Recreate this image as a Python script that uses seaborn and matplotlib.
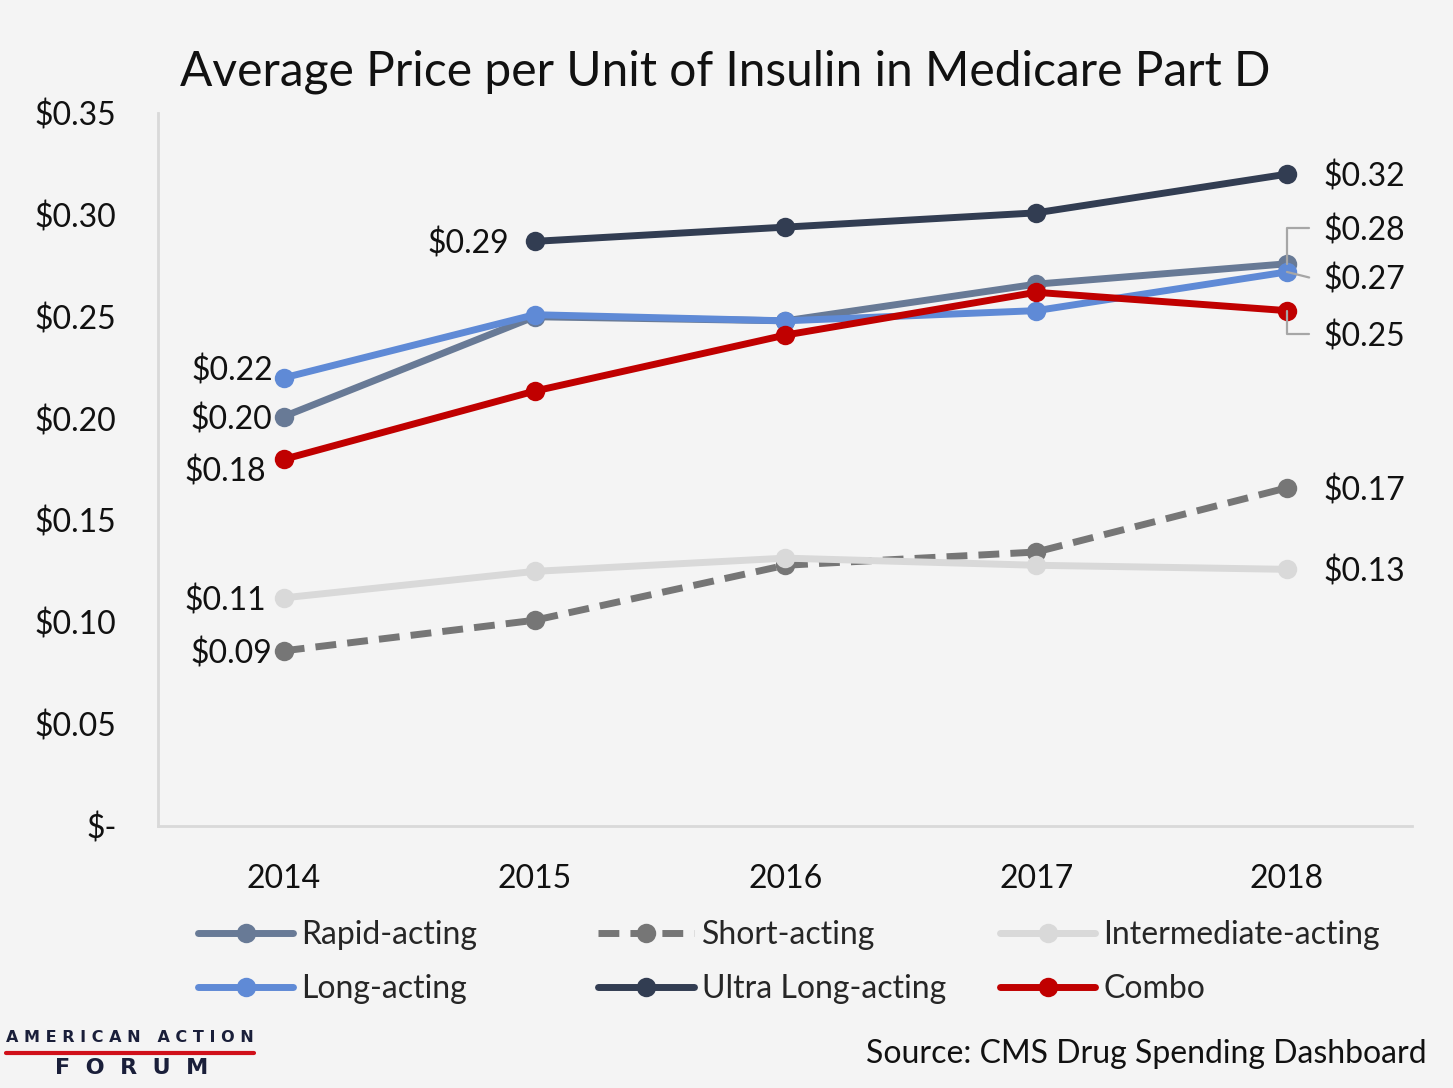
import numpy as np
import pandas as pd
import matplotlib
matplotlib.use("Agg")
import matplotlib.pyplot as plt
from matplotlib.lines import Line2D
import seaborn as sns

years = [2014, 2015, 2016, 2017, 2018]
rapid = [0.201, 0.250, 0.248, 0.266, 0.276]
short = [0.086, 0.101, 0.128, 0.1345, 0.166]
intermediate = [0.112, 0.125, 0.1315, 0.128, 0.126]
long_acting = [0.220, 0.251, 0.248, 0.253, 0.272]
ultra = [np.nan, 0.287, 0.294, 0.301, 0.320]
combo = [0.180, 0.2135, 0.241, 0.262, 0.253]

series_names = ["Rapid-acting", "Short-acting", "Intermediate-acting",
                "Long-acting", "Ultra Long-acting", "Combo"]
series_values = [rapid, short, intermediate, long_acting, ultra, combo]
colors = ["#687a96", "#767676", "#d9d9d9", "#5f8ad6", "#323d52", "#c00000"]
y_ticks = [0, 0.05, 0.10, 0.15, 0.20, 0.25, 0.30, 0.35]
y_tick_labels = ["$-", "$0.05", "$0.10", "$0.15", "$0.20", "$0.25", "$0.30", "$0.35"]

rows = []
for name, vals in zip(series_names, series_values):
    for yr, v in zip(years, vals):
        if not np.isnan(v):
            rows.append({"Year": yr, "Price": v, "Series": name})
df = pd.DataFrame(rows)

sns.set_style("white")
plt.rcParams["font.family"] = ["Lato", "DejaVu Sans"]
bg = "#f4f4f4"

fig = plt.figure(figsize=(14.53, 10.88), dpi=100, facecolor=bg)
ax = fig.add_axes([0.109, 0.2408, 0.863, 0.6553])
ax.set_facecolor(bg)

palette = dict(zip(series_names, colors))
dashes = {n: ("" if n != "Short-acting" else (3, 1.6)) for n in series_names}
markers = {n: "o" for n in series_names}

sns.lineplot(data=df, x="Year", y="Price", hue="Series", style="Series",
             hue_order=series_names, style_order=series_names,
             palette=palette, dashes=dashes, markers=markers,
             linewidth=5, markersize=14, markeredgewidth=0, ax=ax,
             legend=False, sort=True)

ax.set_xlim(2013.5, 2018.5)
ax.set_ylim(0, 0.35)
ax.set_xticks(years)
ax.set_xticklabels([str(y) for y in years], fontsize=23)
ax.set_yticks(y_ticks)
ax.set_yticklabels(y_tick_labels, fontsize=23)
ax.tick_params(axis="both", length=0, colors="#111111")
ax.tick_params(axis="x", pad=27)
ax.tick_params(axis="y", pad=30)
for s in ["top", "right"]:
    ax.spines[s].set_visible(False)
for s in ["left", "bottom"]:
    ax.spines[s].set_color("#d9d9d9")
    ax.spines[s].set_linewidth(2)
ax.set_xlabel("")
ax.set_ylabel("")

lab_fs = 23
def fmt(v):
    return f"${v:.2f}"

# left labels at the first point of each series
left_offsets = {"Rapid-acting": 0, "Short-acting": 0, "Intermediate-acting": 0,
                "Long-acting": 7, "Ultra Long-acting": 0, "Combo": -7}
for name, vals in zip(series_names, series_values):
    idx = next(i for i, v in enumerate(vals) if not np.isnan(v))
    xo = -8 if name not in ("Combo", "Intermediate-acting") else -13
    if name == "Ultra Long-acting":
        xo = -18
    ax.annotate(fmt(vals[idx]), (years[idx], vals[idx]),
                xytext=(xo, left_offsets[name]), textcoords="offset points",
                ha="right", va="center_baseline", fontsize=lab_fs, color="#111111")

# right labels at the last point
right_offsets = {"Rapid-acting": 26, "Short-acting": 0, "Intermediate-acting": 0,
                 "Long-acting": -4, "Ultra Long-acting": 0, "Combo": -17}
for name, vals in zip(series_names, series_values):
    x, v = years[-1], vals[-1]
    dy = right_offsets[name]
    ax.annotate(fmt(v), (x, v), xytext=(26, dy), textcoords="offset points",
                ha="left", va="center_baseline", fontsize=lab_fs, color="#111111")
    if name in ("Rapid-acting", "Long-acting", "Combo"):
        if name == "Long-acting":
            ax.annotate("", (x, v), xytext=(16, dy), textcoords="offset points",
                        arrowprops=dict(arrowstyle="-", color="#a6a6a6", lw=1.6,
                                        shrinkA=0, shrinkB=0))
        else:
            ax.annotate("", (x, v), xytext=(16, dy), textcoords="offset points",
                        arrowprops=dict(arrowstyle="-", color="#a6a6a6", lw=1.6,
                                        shrinkA=0, shrinkB=0,
                                        connectionstyle="angle,angleA=0,angleB=90,rad=0"))

# legend: three columns at fixed positions
handles = []
for name, c in zip(series_names, colors):
    ls = (0, (3, 1.6)) if name == "Short-acting" else "-"
    handles.append(Line2D([0], [0], color=c, lw=5, ls=ls, marker="o",
                          markersize=14, markeredgewidth=0, label=name))
col_x = [0.136, 0.4116, 0.688]
col_items = [[0, 3], [1, 4], [2, 5]]
for cx, items in zip(col_x, col_items):
    leg = fig.legend([handles[i] for i in items], [series_names[i] for i in items],
                     ncol=1, loc="upper left", bbox_to_anchor=(cx, 0.154),
                     frameon=False, fontsize=23, handlelength=3.0,
                     handletextpad=0.25, labelspacing=0.75,
                     borderaxespad=0, borderpad=0)

fig.text(0.124, 0.934, "Average Price per Unit of Insulin in Medicare Part D",
         fontsize=34.5, ha="left", va="center", color="#111111")
fig.text(0.982, 0.031, "Source: CMS Drug Spending Dashboard", fontsize=23,
         ha="right", va="center", color="#111111")

# logo
fig.text(0.0895, 0.046, "A M E R I C A N   A C T I O N", fontsize=11.5,
         fontweight="bold", family="DejaVu Sans", ha="center", va="center",
         color="#1a1f3a")
fig.add_artist(Line2D([0.004, 0.175], [0.032, 0.032], color="#d0101a", lw=3,
                      transform=fig.transFigure))
fig.text(0.0905, 0.018, "F  O  R  U  M", fontsize=16, fontweight="heavy",
         family="DejaVu Sans", ha="center", va="center", color="#1a1f3a")

fig.savefig("out.png", dpi=100, facecolor=bg)
